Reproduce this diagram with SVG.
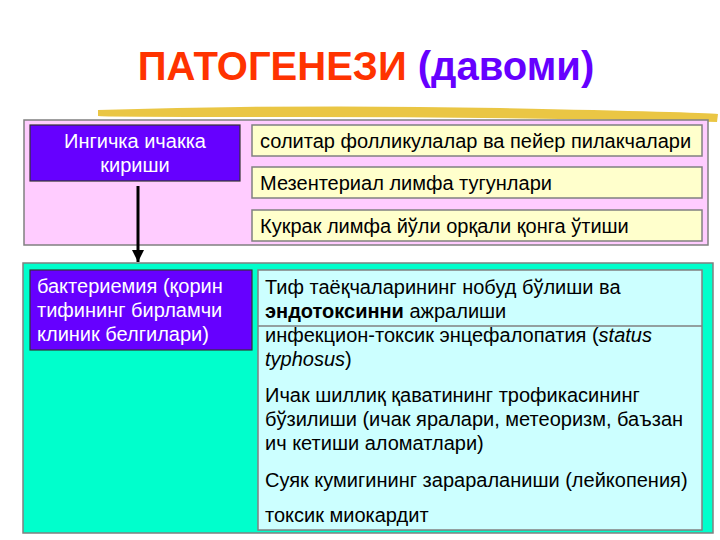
<svg xmlns="http://www.w3.org/2000/svg" width="720" height="540" viewBox="0 0 720 540">
<defs>
<style>
.t{font-family:"Liberation Sans",Arial,sans-serif;font-size:20px;fill:#000}
.w{font-family:"Liberation Sans",Arial,sans-serif;font-size:20px;fill:#fff}
.y{fill:#ffffcc;stroke:#808080;stroke-width:1.5}
.p{fill:#6600ff;stroke:#333;stroke-width:1.2}
</style>
<marker id="ah" markerWidth="12" markerHeight="12" refX="10" refY="5" orient="auto" markerUnits="userSpaceOnUse" viewBox="0 0 10 10"><path d="M0,0 L10,5 L0,10 Z" fill="#000"/></marker>
</defs>
<rect width="720" height="540" fill="#fff"/>
<g id="title">
<text x="366" y="80" text-anchor="middle" font-family="Liberation Sans,Arial,sans-serif" font-size="40" font-weight="bold"><tspan fill="#ff3300">ПАТОГЕНЕЗИ </tspan><tspan fill="#6600ff">(давоми)</tspan></text>
<path d="M98,110 Q300,104 500,108 T718,114 L717,122 Q500,117 300,117 T98,116 Z" fill="#e8c030" opacity="0.9"/>
</g>
<g id="panel1">
<rect x="24" y="120" width="684" height="125" fill="#ffccff" stroke="#808080" stroke-width="1.5"/>
</g>
<g id="n1">
<rect class="p" x="30" y="125" width="210" height="56"/>
<text class="w" x="135" y="148" text-anchor="middle">Ингичка ичакка</text>
<text class="w" x="135" y="172" text-anchor="middle">кириши</text>
</g>
<g id="n2"><rect class="y" x="252" y="125" width="450" height="31"/><text class="t" x="260" y="148">солитар фолликулалар ва пейер пилакчалари</text></g>
<g id="n3"><rect class="y" x="252" y="167" width="450" height="31"/><text class="t" x="260" y="190">Мезентериал лимфа тугунлари</text></g>
<g id="n4"><rect class="y" x="252" y="210" width="450" height="31"/><text class="t" x="260" y="233">Кукрак лимфа йўли орқали қонга ўтиши</text></g>
<g id="panel2">
<rect x="23" y="263" width="690" height="270" fill="#00ffcc" stroke="#808080" stroke-width="1.5"/>
</g>
<g id="n5">
<rect class="p" x="30" y="270" width="222" height="80"/>
<text class="w" x="37" y="293">бактериемия (қорин</text>
<text class="w" x="37" y="317">тифининг бирламчи</text>
<text class="w" x="37" y="341">клиник белгилари)</text>
</g>
<g id="n6">
<rect x="258" y="270" width="444" height="260" fill="#ccffff" stroke="#808080" stroke-width="1.5"/>
<line x1="258" y1="326" x2="702" y2="326" stroke="#808080" stroke-width="1.5"/>
<text class="t" x="265" y="294">Тиф таёқчаларининг нобуд бўлиши ва</text>
<text class="t" x="265" y="318"><tspan font-weight="bold">эндотоксинни</tspan> ажралиши</text>
<text class="t" x="265" y="342">инфекцион-токсик энцефалопатия (<tspan font-style="italic">status</tspan></text>
<text class="t" x="265" y="366"><tspan font-style="italic">typhosus</tspan>)</text>
<text class="t" x="265" y="402">Ичак шиллиқ қаватининг трофикасининг</text>
<text class="t" x="265" y="426">бўзилиши (ичак яралари, метеоризм, баъзан</text>
<text class="t" x="265" y="450">ич кетиши аломатлари)</text>
<text class="t" x="265" y="487">Суяк кумигининг зарараланиши (лейкопения)</text>
<text class="t" x="265" y="522">токсик миокардит</text>
</g>
<g id="connectors">
<line x1="138" y1="186" x2="138" y2="262" stroke="#000" stroke-width="3" marker-end="url(#ah)"/>
</g>
</svg>
